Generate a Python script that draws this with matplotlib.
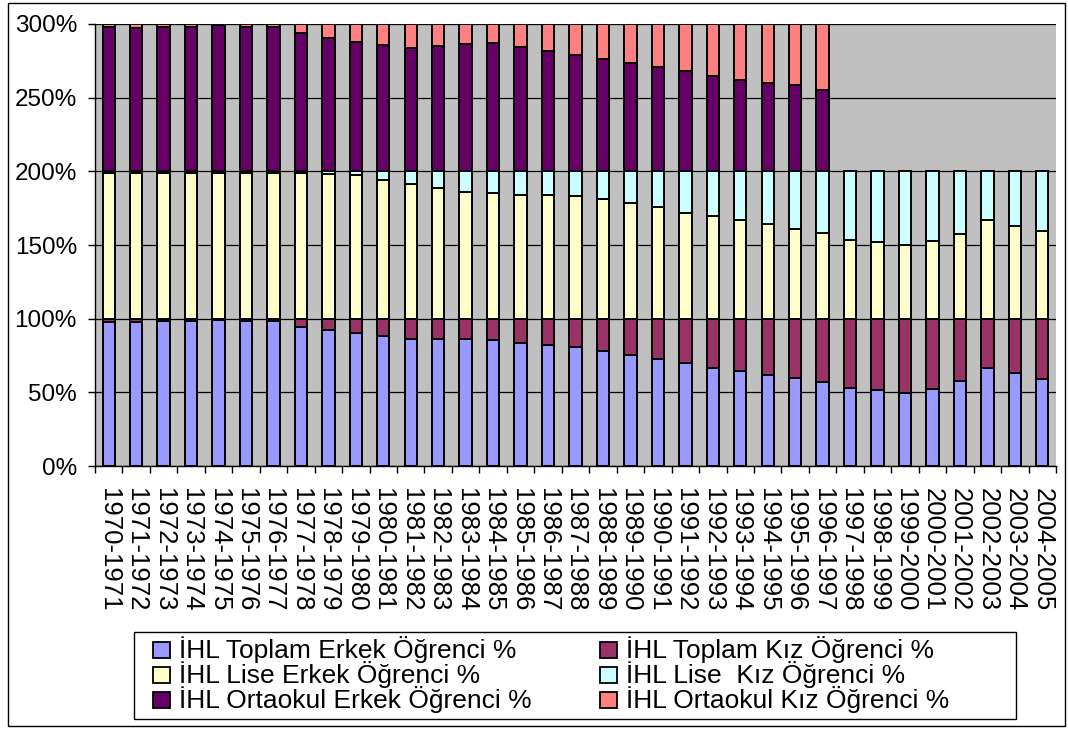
import numpy as np
import matplotlib
matplotlib.use("Agg")
import matplotlib.pyplot as plt
from matplotlib.patches import Rectangle
from matplotlib.ticker import FuncFormatter

plt.rcParams['font.family'] = ['Liberation Sans', 'DejaVu Sans']

# öğretim yılları
years = ['1970-1971', '1971-1972', '1972-1973', '1973-1974', '1974-1975',
         '1975-1976', '1976-1977', '1977-1978', '1978-1979', '1979-1980',
         '1980-1981', '1981-1982', '1982-1983', '1983-1984', '1984-1985',
         '1985-1986', '1986-1987', '1987-1988', '1988-1989', '1989-1990',
         '1990-1991', '1991-1992', '1992-1993', '1993-1994', '1994-1995',
         '1995-1996', '1996-1997', '1997-1998', '1998-1999', '1999-2000',
         '2000-2001', '2001-2002', '2002-2003', '2003-2004', '2004-2005']

# İHL toplam (%)
toplam_erkek = [97.5, 97.5, 98.2, 98.5, 99.0, 98.3, 98.3, 94.3, 92.0, 90.5,
                88.0, 86.2, 86.2, 86.0, 85.5, 83.8, 82.4, 80.9, 77.9, 75.2,
                72.5, 69.6, 66.4, 64.2, 61.9, 59.5, 57.0, 53.2, 51.4, 49.5,
                52.0, 57.5, 66.4, 63.0, 59.3]
toplam_kiz = [2.5, 2.5, 1.8, 1.5, 1.0, 1.7, 1.7, 5.7, 8.0, 9.5,
              12.0, 13.8, 13.8, 14.0, 14.5, 16.2, 17.6, 19.1, 22.1, 24.8,
              27.5, 30.4, 33.6, 35.8, 38.1, 40.5, 43.0, 46.8, 48.6, 50.5,
              48.0, 42.5, 33.6, 37.0, 40.7]

# İHL lise (%)
lise_erkek = [99.0, 99.0, 99.0, 99.0, 99.0, 99.0, 99.0, 99.2, 98.3, 97.5,
              94.0, 91.6, 89.0, 86.3, 85.2, 84.0, 84.0, 83.0, 81.3, 78.5,
              75.8, 72.0, 69.6, 67.0, 64.2, 60.6, 58.2, 53.4, 51.8, 49.8,
              52.7, 57.7, 66.8, 63.2, 59.5]
lise_kiz = [1.0, 1.0, 1.0, 1.0, 1.0, 1.0, 1.0, 0.8, 1.7, 2.5,
            6.0, 8.4, 11.0, 13.7, 14.8, 16.0, 16.0, 17.0, 18.7, 21.5,
            24.2, 28.0, 30.4, 33.0, 35.8, 39.4, 41.8, 46.6, 48.2, 50.2,
            47.3, 42.3, 33.2, 36.8, 40.5]

# İHL ortaokul (%) - 1996-1997'den sonra yok
ortaokul_erkek = [97.7, 97.0, 97.7, 98.2, 99.3, 98.2, 98.2, 93.7, 90.7, 87.6,
                  85.7, 84.0, 85.3, 86.4, 86.9, 84.6, 81.7, 79.0, 76.0, 73.8,
                  71.0, 68.3, 64.7, 62.0, 59.7, 58.6, 55.2]
ortaokul_kiz = [2.3, 3.0, 2.3, 1.8, 0.7, 1.8, 1.8, 6.3, 9.3, 12.4,
                14.3, 16.0, 14.7, 13.6, 13.1, 15.4, 18.3, 21.0, 24.0, 26.2,
                29.0, 31.7, 35.3, 38.0, 40.3, 41.4, 44.8]

series = [
    ('İHL Toplam Erkek Öğrenci %', toplam_erkek, '#9999FF'),
    ('İHL Toplam Kız Öğrenci %', toplam_kiz, '#993366'),
    ('İHL Lise Erkek Öğrenci %', lise_erkek, '#FFFFCC'),
    ('İHL Lise  Kız Öğrenci %', lise_kiz, '#CCFFFF'),
    ('İHL Ortaokul Erkek Öğrenci %', ortaokul_erkek, '#660066'),
    ('İHL Ortaokul Kız Öğrenci %', ortaokul_kiz, '#FF8080'),
]

W, H = 1068, 729
fig = plt.figure(figsize=(W / 100, H / 100), dpi=100)
ax = fig.add_axes([95 / W, 1 - 466 / H, 961 / W, 442 / H])
ax.set_facecolor('#C0C0C0')

x = np.arange(len(years))
bottom = np.zeros(len(years))
for name, vals, col in series:
    n = len(vals)
    ax.bar(x[:n], vals, bottom=bottom[:n], width=0.45, color=col,
           edgecolor='black', linewidth=1.4, zorder=3)
    bottom[:n] += np.array(vals)

ax.set_xlim(-0.5, len(years) - 0.5)
ax.set_ylim(0, 300)
ax.set_yticks(np.arange(0, 301, 50))
ax.yaxis.set_major_formatter(FuncFormatter(lambda v, p: f'{v:.0f}%'))
ax.grid(axis='y', color='black', linewidth=0.9, zorder=1)

# tick çizgileri kategori aralarında, etiketler ortada
ax.set_xticks(np.arange(-0.5, len(years), 1))
ax.set_xticklabels([])
ax.set_xticks(x, years, minor=True, rotation=270)
ax.tick_params(axis='x', which='minor', length=0, pad=16, labelsize=18.5)
ax.tick_params(axis='x', which='major', length=5, width=1, color='black')
ax.tick_params(axis='y', length=5, width=1, pad=8, labelsize=17.5)

for s in ['top', 'right']:
    ax.spines[s].set_visible(False)
for s in ['left', 'bottom']:
    ax.spines[s].set_linewidth(1)

# lejant: 3 satır x 2 sütun
fig.patches.append(Rectangle((134 / W, 1 - 719 / H), 882 / W, 87 / H,
                             transform=fig.transFigure, fill=False,
                             edgecolor='black', linewidth=1))
col_x = [153, 600]
row_base = [658, 683, 708]
for i, (name, vals, col) in enumerate(series):
    cx = col_x[i % 2]
    by = row_base[i // 2]
    fig.patches.append(Rectangle((cx / W, 1 - by / H), 17 / W, 16 / H,
                                 transform=fig.transFigure, facecolor=col,
                                 edgecolor='black', linewidth=1.3))
    fig.text((cx + 26) / W, 1 - by / H, name, fontsize=19, va='baseline',
             ha='left')

# dış çerçeve
fig.patches.append(Rectangle((8 / W, 3 / H), 1057 / W, 723 / H,
                             transform=fig.transFigure, fill=False,
                             edgecolor='black', linewidth=1))

fig.savefig('out.png', dpi=100)
